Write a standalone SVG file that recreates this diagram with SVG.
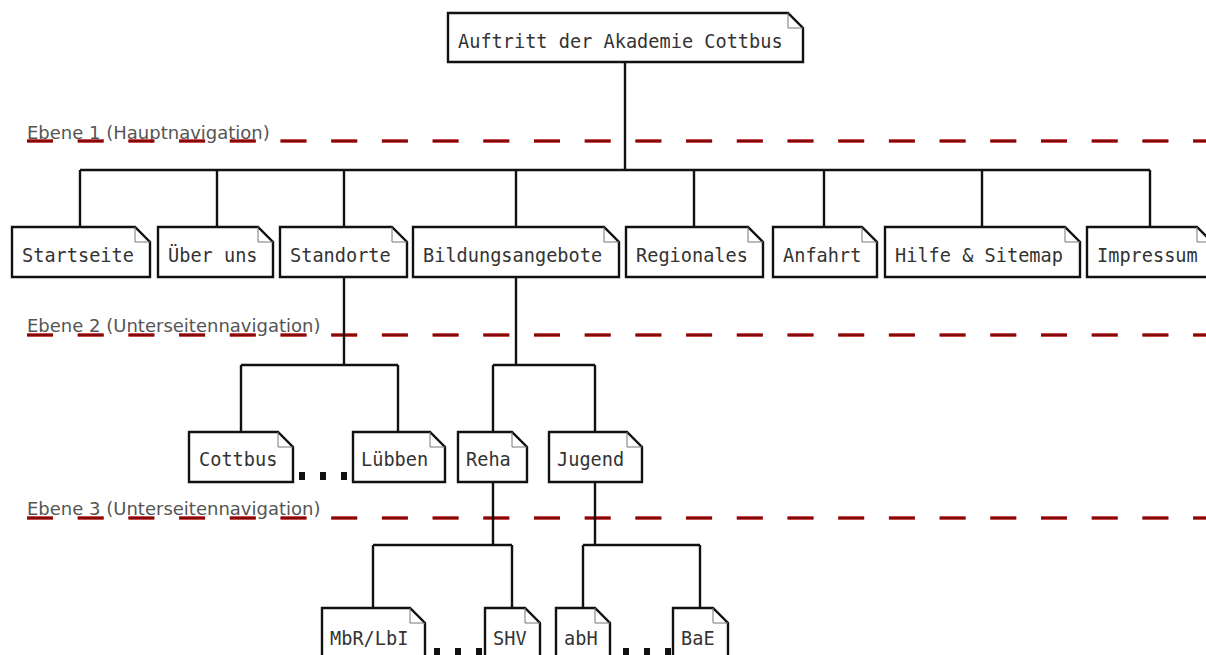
<svg xmlns="http://www.w3.org/2000/svg" width="1206" height="655" viewBox="0 0 1206 655">
<style>
.bx{fill:#fff;stroke:#111;stroke-width:2.4}
.fold{fill:none;stroke:#777;stroke-width:1}
.t{font-family:"DejaVu Sans Mono","Liberation Mono",monospace;font-size:18.6px;fill:#333}
.lv{font-family:"DejaVu Sans","Liberation Sans",sans-serif;font-size:18px;fill:#555}
.dashr{stroke:#b81414;stroke-width:3.4;stroke-dasharray:26 24.7;fill:none}
.dashk{stroke:#4a0000;stroke-width:1;stroke-dasharray:26 24.7;fill:none}
.c{stroke:#111;stroke-width:2.4;fill:none}
.dot{fill:#111}
</style>
<rect width="1206" height="655" fill="#fff"/>
<g id="levels">
<text class="lv" x="27" y="139">Ebene 1 (Hauptnavigation)</text>
<path class="dashr" d="M27 141H1206"/><path class="dashk" d="M27 141H1206"/>
<text class="lv" x="27" y="332">Ebene 2 (Unterseitennavigation)</text>
<path class="dashr" d="M27 335H1206"/><path class="dashk" d="M27 335H1206"/>
<text class="lv" x="27" y="515">Ebene 3 (Unterseitennavigation)</text>
<path class="dashr" d="M27 518H1206"/><path class="dashk" d="M27 518H1206"/>
</g>
<g id="connectors">
<path class="c" d="M625 62V170M80 170H1150M80 170V227M217 170V227M344 170V227M516 170V227M694 170V227M824 170V227M982 170V227M1150 170V227"/>
<path class="c" d="M344 277V365M241 365H398M241 365V432M398 365V432"/>
<path class="c" d="M516 277V365M493 365H595M493 365V432M595 365V432"/>
<path class="c" d="M493 482V545M373 545H512M373 545V608M512 545V608"/>
<path class="c" d="M595 482V545M583 545H700M583 545V608M700 545V608"/>
</g>
<g id="root"><path class="bx" d="M448 13H788L803 28V62H448Z"/><path class="fold" d="M788 13V28H803"/><text class="t" x="458" y="48">Auftritt der Akademie Cottbus</text></g>
<g id="startseite"><path class="bx" d="M12 227H135L150 242V277H12Z"/><path class="fold" d="M135 227V242H150"/><text class="t" x="22" y="262">Startseite</text></g>
<g id="ueber"><path class="bx" d="M158 227H258L273 242V277H158Z"/><path class="fold" d="M258 227V242H273"/><text class="t" x="168" y="262">Über uns</text></g>
<g id="standorte"><path class="bx" d="M280 227H392L407 242V277H280Z"/><path class="fold" d="M392 227V242H407"/><text class="t" x="290" y="262">Standorte</text></g>
<g id="bildung"><path class="bx" d="M413 227H604L619 242V277H413Z"/><path class="fold" d="M604 227V242H619"/><text class="t" x="423" y="262">Bildungsangebote</text></g>
<g id="regionales"><path class="bx" d="M626 227H748L763 242V277H626Z"/><path class="fold" d="M748 227V242H763"/><text class="t" x="636" y="262">Regionales</text></g>
<g id="anfahrt"><path class="bx" d="M773 227H862L877 242V277H773Z"/><path class="fold" d="M862 227V242H877"/><text class="t" x="783" y="262">Anfahrt</text></g>
<g id="hilfe"><path class="bx" d="M885 227H1065L1080 242V277H885Z"/><path class="fold" d="M1065 227V242H1080"/><text class="t" x="895" y="262">Hilfe &amp; Sitemap</text></g>
<g id="impressum"><path class="bx" d="M1087 227H1197L1212 242V277H1087Z"/><path class="fold" d="M1197 227V242H1212"/><text class="t" x="1097" y="262">Impressum</text></g>
<g id="cottbus"><path class="bx" d="M189 432H278L293 447V482H189Z"/><path class="fold" d="M278 432V447H293"/><text class="t" x="199" y="466">Cottbus</text></g>
<g id="luebben"><path class="bx" d="M353 432H430L445 447V482H353Z"/><path class="fold" d="M430 432V447H445"/><text class="t" x="361" y="466">Lübben</text></g>
<g id="reha"><path class="bx" d="M458 432H512L527 447V482H458Z"/><path class="fold" d="M512 432V447H527"/><text class="t" x="466" y="466">Reha</text></g>
<g id="jugend"><path class="bx" d="M549 432H627L642 447V482H549Z"/><path class="fold" d="M627 432V447H642"/><text class="t" x="557" y="466">Jugend</text></g>
<g id="mbr"><path class="bx" d="M322 608H410L425 623V670H322Z"/><path class="fold" d="M410 608V623H425"/><text class="t" x="330" y="645">MbR/LbI</text></g>
<g id="shv"><path class="bx" d="M485 608H525L540 623V670H485Z"/><path class="fold" d="M525 608V623H540"/><text class="t" x="493" y="645">SHV</text></g>
<g id="abh"><path class="bx" d="M556 608H595L610 623V670H556Z"/><path class="fold" d="M595 608V623H610"/><text class="t" x="564" y="645">abH</text></g>
<g id="bae"><path class="bx" d="M673 608H713L728 623V670H673Z"/><path class="fold" d="M713 608V623H728"/><text class="t" x="681" y="645">BaE</text></g>
<g id="ellipses">
<rect class="dot" x="299" y="472" width="6" height="8"/><rect class="dot" x="320" y="472" width="6" height="8"/><rect class="dot" x="341" y="472" width="6" height="8"/>
<rect class="dot" x="434" y="648" width="6" height="8"/><rect class="dot" x="455" y="648" width="6" height="8"/><rect class="dot" x="476" y="648" width="6" height="8"/>
<rect class="dot" x="623" y="648" width="6" height="8"/><rect class="dot" x="644" y="648" width="6" height="8"/><rect class="dot" x="665" y="648" width="6" height="8"/>
</g>
</svg>
